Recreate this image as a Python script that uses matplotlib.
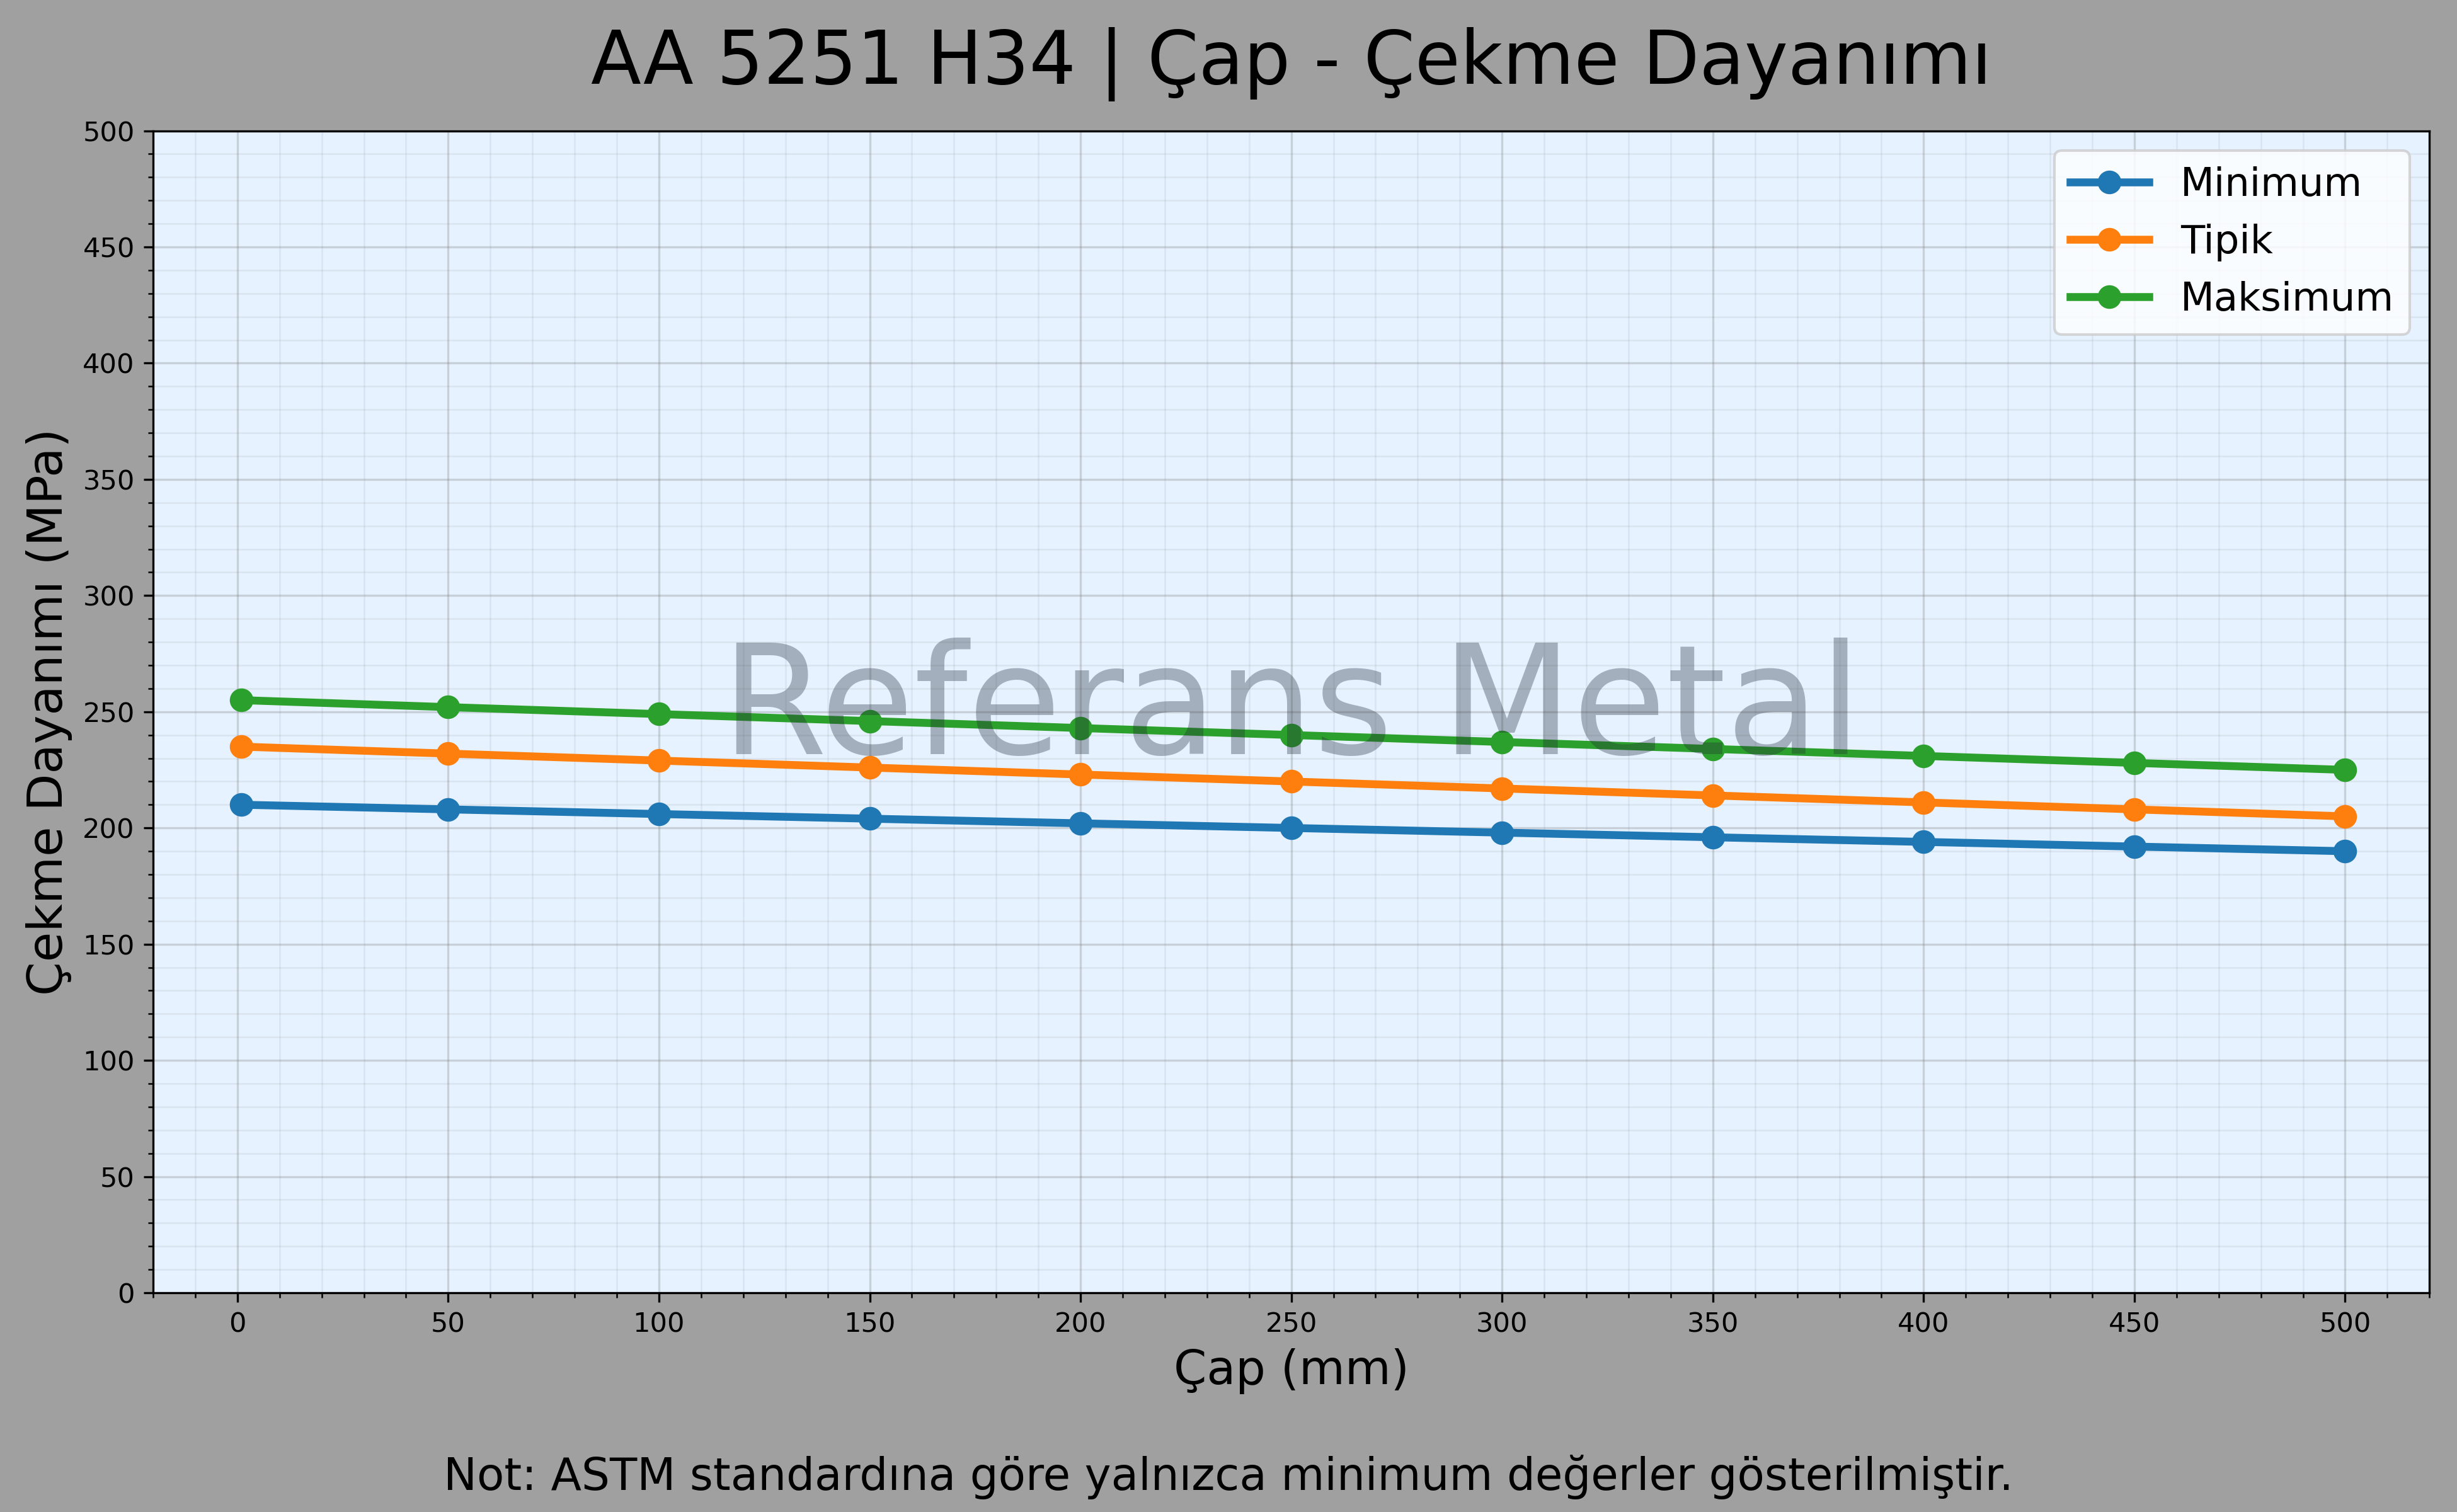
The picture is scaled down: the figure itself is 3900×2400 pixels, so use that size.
import matplotlib
matplotlib.use('Agg')
import matplotlib.pyplot as plt
from matplotlib.ticker import MultipleLocator

# Data
cap_mm = [1, 50, 100, 150, 200, 250, 300, 350, 400, 450, 500]
minimum = [210, 208, 206, 204, 202, 200, 198, 196, 194, 192, 190]
tipik = [235, 232, 229, 226, 223, 220, 217, 214, 211, 208, 205]
maksimum = [255, 252, 249, 246, 243, 240, 237, 234, 231, 228, 225]

series_names = ['Minimum', 'Tipik', 'Maksimum']
series_colors = ['#1f77b4', '#ff7f0e', '#2ca02c']

title = 'AA 5251 H34 | Çap - Çekme Dayanımı'
note = 'Not: ASTM standardına göre yalnızca minimum değerler gösterilmiştir.'

fig = plt.figure(figsize=(13, 8), dpi=300, facecolor='#a0a0a0')
ax = fig.add_axes([0.0623, 0.145, 0.9265, 0.7685])
ax.set_facecolor('#e6f2ff')

for name, vals, col in zip(series_names, [minimum, tipik, maksimum], series_colors):
    ax.plot(cap_mm, vals, marker='o', linewidth=3, markersize=8, color=col, label=name)

ax.set_xlim(-20, 520)
ax.set_ylim(0, 500)
ax.xaxis.set_major_locator(MultipleLocator(50))
ax.xaxis.set_minor_locator(MultipleLocator(10))
ax.yaxis.set_major_locator(MultipleLocator(50))
ax.yaxis.set_minor_locator(MultipleLocator(10))
ax.tick_params(axis='both', which='major', labelsize=10.4)

ax.grid(which='major', color='gray', alpha=0.3, linewidth=0.8)
ax.grid(which='minor', color='gray', alpha=0.12, linewidth=0.6)
ax.set_axisbelow(True)

ax.set_xlabel('Çap (mm)', fontsize=18)
ax.set_ylabel('Çekme Dayanımı (MPa)', fontsize=18.5)
ax.set_title(title, fontsize=28, pad=18)

# watermark
ax.text(0.5, 0.5, 'Referans Metal', transform=ax.transAxes, fontsize=58,
        color='#202838', alpha=0.33, ha='center', va='center', zorder=10)

leg = ax.legend(loc='upper right', fontsize=15, fancybox=True, framealpha=0.8)

fig.text(0.5, 0.023, note, ha='center', va='center', fontsize=17)

fig.savefig('out.png', dpi=300, facecolor=fig.get_facecolor())
